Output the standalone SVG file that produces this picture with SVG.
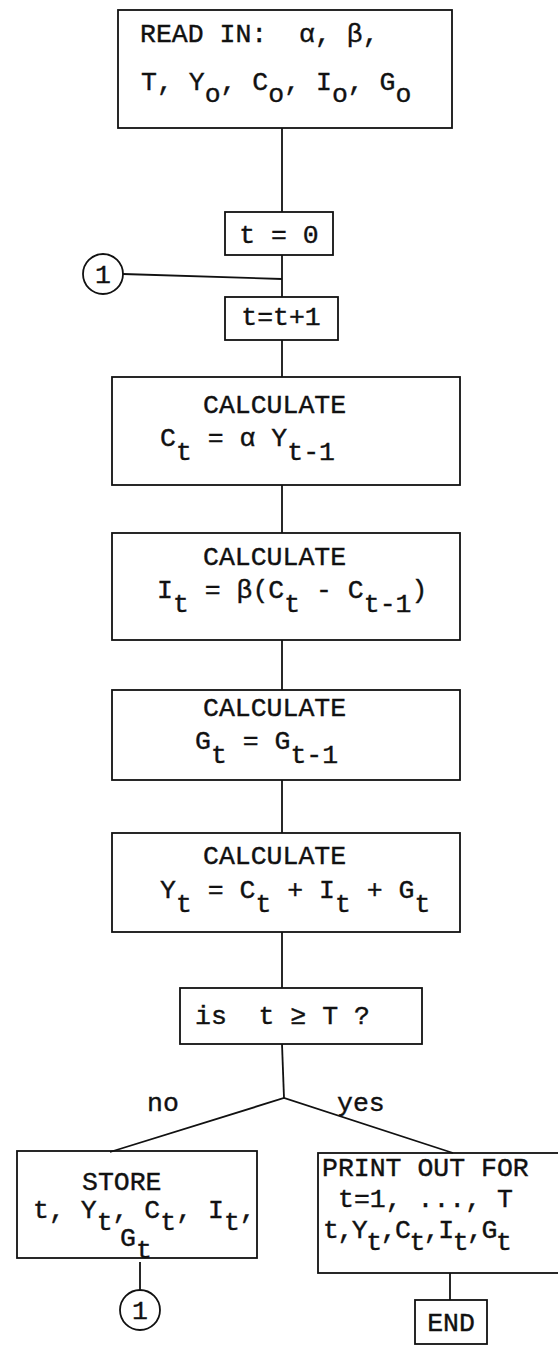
<svg xmlns="http://www.w3.org/2000/svg" width="558" height="1360" viewBox="0 0 558 1360" xml:space="preserve">
<style>
.box{fill:none;stroke:#111;stroke-width:1.8}
.ln{fill:none;stroke:#111;stroke-width:1.8}
text{font-family:"Liberation Mono","Courier New",monospace;font-size:26.5px;fill:#111;stroke:#111;stroke-width:0.4;white-space:pre}
</style>
<rect width="558" height="1360" fill="#fff"/>
<g id="connectors">
<line class="ln" x1="282" y1="128" x2="282" y2="212"/>
<line class="ln" x1="282" y1="255" x2="282" y2="297"/>
<line class="ln" x1="123" y1="274" x2="282" y2="279"/>
<line class="ln" x1="282" y1="340" x2="282" y2="377"/>
<line class="ln" x1="282" y1="485" x2="282" y2="533"/>
<line class="ln" x1="282" y1="640" x2="282" y2="690"/>
<line class="ln" x1="282" y1="780" x2="282" y2="833"/>
<line class="ln" x1="282" y1="932" x2="282" y2="988"/>
<polyline class="ln" points="282,1044 284,1098"/>
<polyline class="ln" points="110,1152 284,1098 453,1153"/>
<line class="ln" x1="140" y1="1262" x2="140" y2="1290"/>
<line class="ln" x1="450" y1="1273" x2="450" y2="1300"/>
</g>
<g id="read">
<rect class="box" x="118" y="10" width="334" height="118"/>
<text x="140" y="42">READ IN:  α, β,</text>
<text x="141" y="90">T, Y<tspan dy="12">o</tspan><tspan dy="-12">, C</tspan><tspan dy="12">o</tspan><tspan dy="-12">, I</tspan><tspan dy="12">o</tspan><tspan dy="-12">, G</tspan><tspan dy="12">o</tspan></text>
</g>
<g id="t0">
<rect class="box" x="225" y="212" width="108" height="43"/>
<text x="279" y="243" text-anchor="middle">t = 0</text>
</g>
<g id="c1top">
<circle class="box" cx="103" cy="274" r="20"/>
<text x="103" y="283" text-anchor="middle" font-size="24">1</text>
</g>
<g id="tinc">
<rect class="box" x="225" y="297" width="113" height="43"/>
<text x="281" y="325" text-anchor="middle">t=t+1</text>
</g>
<g id="calcC">
<rect class="box" x="112" y="377" width="348" height="108"/>
<text x="203" y="413">CALCULATE</text>
<text x="160" y="446">C<tspan dy="14">t</tspan><tspan dy="-14"> = α Y</tspan><tspan dy="14">t-1</tspan></text>
</g>
<g id="calcI">
<rect class="box" x="112" y="533" width="348" height="107"/>
<text x="203" y="565">CALCULATE</text>
<text x="157" y="598">I<tspan dy="14">t</tspan><tspan dy="-14"> = β(C</tspan><tspan dy="14">t</tspan><tspan dy="-14"> - C</tspan><tspan dy="14">t-1</tspan><tspan dy="-14">)</tspan></text>
</g>
<g id="calcG">
<rect class="box" x="112" y="690" width="348" height="90"/>
<text x="203" y="716">CALCULATE</text>
<text x="195" y="749">G<tspan dy="14">t</tspan><tspan dy="-14"> = G</tspan><tspan dy="14">t-1</tspan></text>
</g>
<g id="calcY">
<rect class="box" x="112" y="833" width="348" height="99"/>
<text x="203" y="864">CALCULATE</text>
<text x="160" y="898">Y<tspan dy="14">t</tspan><tspan dy="-14"> = C</tspan><tspan dy="14">t</tspan><tspan dy="-14"> + I</tspan><tspan dy="14">t</tspan><tspan dy="-14"> + G</tspan><tspan dy="14">t</tspan></text>
</g>
<g id="test">
<rect class="box" x="180" y="988" width="242" height="56"/>
<text x="195" y="1024">is  t ≥ T ?</text>
</g>
<g id="labels">
<text x="147" y="1111">no</text>
<text x="337" y="1111">yes</text>
</g>
<g id="store">
<rect class="box" x="17" y="1151" width="240" height="107"/>
<text x="82" y="1190">STORE</text>
<text x="33" y="1218">t, Y<tspan dy="12">t</tspan><tspan dy="-12">, C</tspan><tspan dy="12">t</tspan><tspan dy="-12">, I</tspan><tspan dy="12">t</tspan><tspan dy="-12">,</tspan></text>
<text x="120" y="1246">G<tspan dy="12">t</tspan></text>
</g>
<g id="c1bot">
<circle class="box" cx="140" cy="1310" r="20"/>
<text x="140" y="1319" text-anchor="middle" font-size="24">1</text>
</g>
<g id="print">
<rect class="box" x="318" y="1153" width="260" height="120"/>
<text x="322" y="1176">PRINT OUT FOR</text>
<text x="338" y="1207">t=1, ..., T</text>
<text x="323" y="1238" letter-spacing="-1.5">t,Y<tspan dy="12">t</tspan><tspan dy="-12">,C</tspan><tspan dy="12">t</tspan><tspan dy="-12">,I</tspan><tspan dy="12">t</tspan><tspan dy="-12">,G</tspan><tspan dy="12">t</tspan></text>
</g>
<g id="end">
<rect class="box" x="415" y="1300" width="72" height="44"/>
<text x="451" y="1331" text-anchor="middle">END</text>
</g>
</svg>
